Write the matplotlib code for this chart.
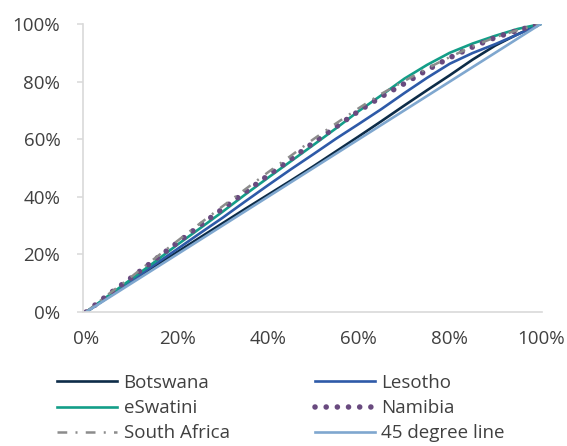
import matplotlib
matplotlib.use('Agg')
from matplotlib import pyplot as plt
from matplotlib.ticker import PercentFormatter

plt.rcParams['font.family'] = ['Open Sans', 'DejaVu Sans']

# cumulative share of population (x) vs cumulative share (y), in %
pop = [0, 5, 10, 15, 20, 25, 30, 35, 40, 45, 50, 55, 60, 65, 70, 75, 80, 85, 90, 95, 100]

botswana = [0, 5.3, 10.5, 15.8, 20.8, 25.8, 30.8, 35.8, 40.7, 45.6, 50.6, 55.8, 61.0,
            66.3, 71.7, 77.0, 82.2, 87.6, 92.5, 96.5, 100]
lesotho = [0, 5.4, 10.9, 16.4, 21.8, 27.3, 32.7, 38.4, 44.0, 49.5, 54.8, 60.2, 65.3,
           70.5, 76.0, 81.3, 86.2, 89.9, 93.0, 96.4, 100]
eswatini = [0, 5.8, 11.5, 17.3, 23.3, 29.0, 34.8, 40.8, 46.6, 52.3, 58.0, 63.8, 69.8,
            75.3, 81.0, 85.8, 90.0, 93.2, 95.9, 98.3, 100]
namibia = [0, 6.2, 12.0, 18.0, 24.0, 30.0, 35.8, 41.6, 47.4, 53.0, 58.8, 64.3, 69.8,
           74.8, 79.3, 84.0, 88.3, 92.0, 95.3, 97.8, 100]
south_africa = [0, 6.3, 12.3, 18.5, 24.6, 30.7, 36.7, 42.6, 48.5, 54.2, 60.0, 65.5, 70.8,
                75.8, 80.2, 84.6, 88.5, 92.2, 95.4, 97.9, 100]
diag_x = [0, 100]
diag_y = [0, 100]

fig = plt.figure(figsize=(5.67, 4.46), dpi=100)
ax = fig.add_axes([83/567, 1-312/446, (542-83)/567, (312-24)/446])

l_bw, = ax.plot(pop, botswana, color='#0d2c48', lw=1.9, label='Botswana')
l_ls, = ax.plot(pop, lesotho, color='#2e5aa8', lw=1.9, label='Lesotho')
l_sz, = ax.plot(pop, eswatini, color='#139e88', lw=1.9, label='eSwatini')
l_nm, = ax.plot(pop, namibia, color='#694a7f', lw=4.0, linestyle=(0, (0.01, 2.0)),
                dash_capstyle='round', label='Namibia')
l_sa, = ax.plot(pop, south_africa, color='#8c8c8c', lw=1.8,
                linestyle=(0, (3.9, 3.3, 0.8, 3.3)), label='South Africa')
l_45, = ax.plot(diag_x, diag_y, color='#7fa7cf', lw=1.9, label='45 degree line')

ax.set_xlim(-0.7, 100.3)
ax.set_ylim(0, 100)
ax.set_xticks([0, 20, 40, 60, 80, 100])
ax.set_yticks([0, 20, 40, 60, 80, 100])
ax.xaxis.set_major_formatter(PercentFormatter(decimals=0))
ax.yaxis.set_major_formatter(PercentFormatter(decimals=0))

for s in ['top', 'right']:
    ax.spines[s].set_visible(False)
for s in ['left', 'bottom']:
    ax.spines[s].set_color('#d9d9d9')
    ax.spines[s].set_linewidth(1.2)

ax.tick_params(axis='y', length=4.3, width=1.1, color='#d9d9d9', pad=12,
               labelsize=13.5, labelcolor='#404040')
ax.tick_params(axis='x', length=0, pad=13, labelsize=13.5, labelcolor='#404040')

handles = [l_bw, l_sz, l_sa, l_ls, l_nm, l_45]
fig.legend(handles=handles, labels=[h.get_label() for h in handles],
           loc='upper left', bbox_to_anchor=(57/567, 1-374/446), ncol=2,
           frameon=False, fontsize=13.5, handlelength=3.2, handletextpad=0.35,
           columnspacing=4.55, labelspacing=0.38, borderpad=0, borderaxespad=0,
           labelcolor='#404040')

fig.savefig('out.png', dpi=100)
